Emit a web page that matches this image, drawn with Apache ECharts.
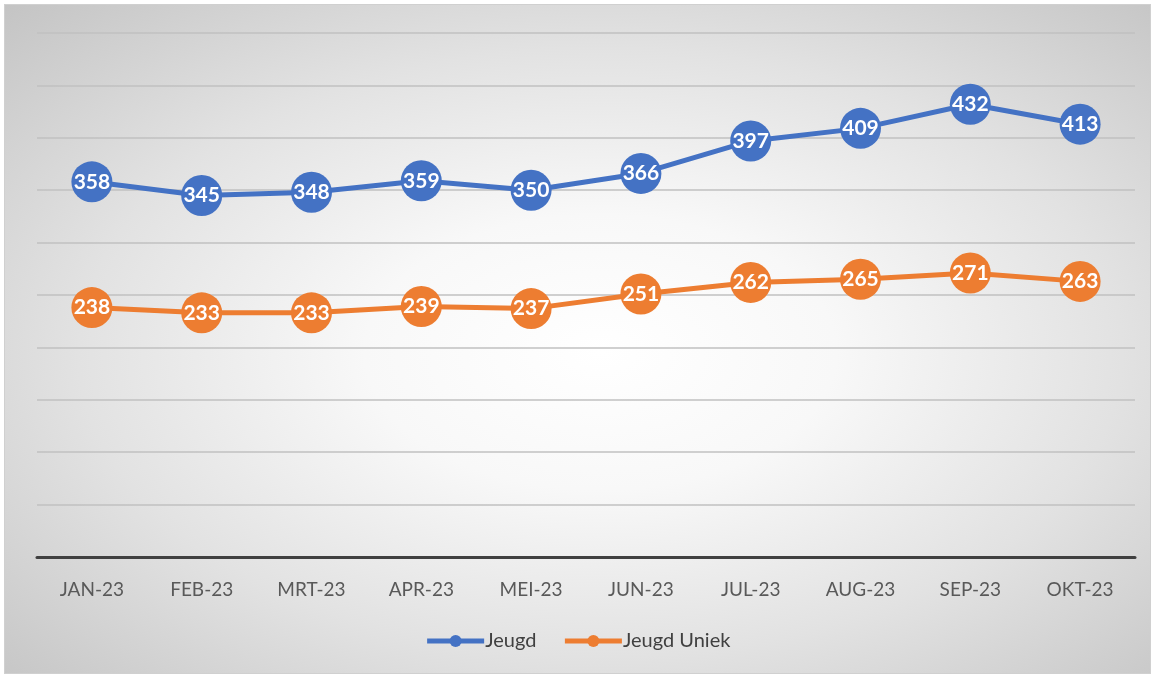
<!DOCTYPE html>
<html>
<head>
<meta charset="utf-8">
<script src="https://cdn.jsdelivr.net/npm/echarts@6/dist/echarts.min.js"></script>
<style>
  html, body { margin: 0; padding: 0; background: #fff; }
  #frame {
    position: absolute; left: 4px; top: 4px; width: 1147px; height: 670px;
    box-sizing: border-box; border: 1px solid #d0d0d0;
    background: radial-gradient(ellipse at 52% 52%, #ffffff 0%, #f8f8f8 28%, #e2e2e2 62%, #c4c4c4 100%);
  }
  #chart { position: absolute; left: 0; top: 0; width: 1155px; height: 678px; }
</style>
</head>
<body>
<div id="frame"></div>
<div id="chart"></div>
<script>
// data
const months = ['JAN-23', 'FEB-23', 'MRT-23', 'APR-23', 'MEI-23', 'JUN-23', 'JUL-23', 'AUG-23', 'SEP-23', 'OKT-23']
const jeugd = [358, 345, 348, 359, 350, 366, 397, 409, 432, 413]
const jeugdUniek = [238, 233, 233, 239, 237, 251, 262, 265, 271, 263]

const chart = echarts.init(document.getElementById('chart'))

const lineSeries = (name, data, color) => ({
  name,
  type: 'line',
  data,
  symbol: 'circle',
  symbolSize: 41,
  lineStyle: { width: 5, color },
  itemStyle: { color },
  label: {
    show: true,
    position: 'inside',
    color: '#fff',
    fontSize: 21,
    fontWeight: 'bold',
    fontFamily: 'Lato',
  },
  emphasis: { disabled: true },
})

chart.setOption({
  animation: false,
  backgroundColor: 'transparent',
  textStyle: { fontFamily: 'Lato' },
  grid: { left: 37, right: 20, top: 33, bottom: 121 },
  legend: {
    bottom: 22,
    left: 'center',
    itemWidth: 57,
    itemHeight: 15,
    itemGap: 26,
    lineStyle: { width: 5 },
    textStyle: { fontSize: 20, color: '#404040', padding: [0, 0, 0, -4] },
    data: ['Jeugd', 'Jeugd Uniek'],
  },
  xAxis: {
    type: 'category',
    data: months,
    boundaryGap: true,
    axisLine: { lineStyle: { color: '#404040', width: 3 } },
    axisTick: { show: false },
    axisLabel: { color: '#595959', fontSize: 19, margin: 23 },
  },
  yAxis: {
    type: 'value',
    min: 0,
    max: 500,
    interval: 50,
    axisLabel: { show: false },
    axisLine: { show: false },
    axisTick: { show: false },
    splitLine: { lineStyle: { color: '#c0c0c0', width: 1.5 } },
  },
  series: [
    lineSeries('Jeugd', jeugd, '#4472C4'),
    lineSeries('Jeugd Uniek', jeugdUniek, '#ED7D31'),
  ],
})
</script>
</body>
</html>
